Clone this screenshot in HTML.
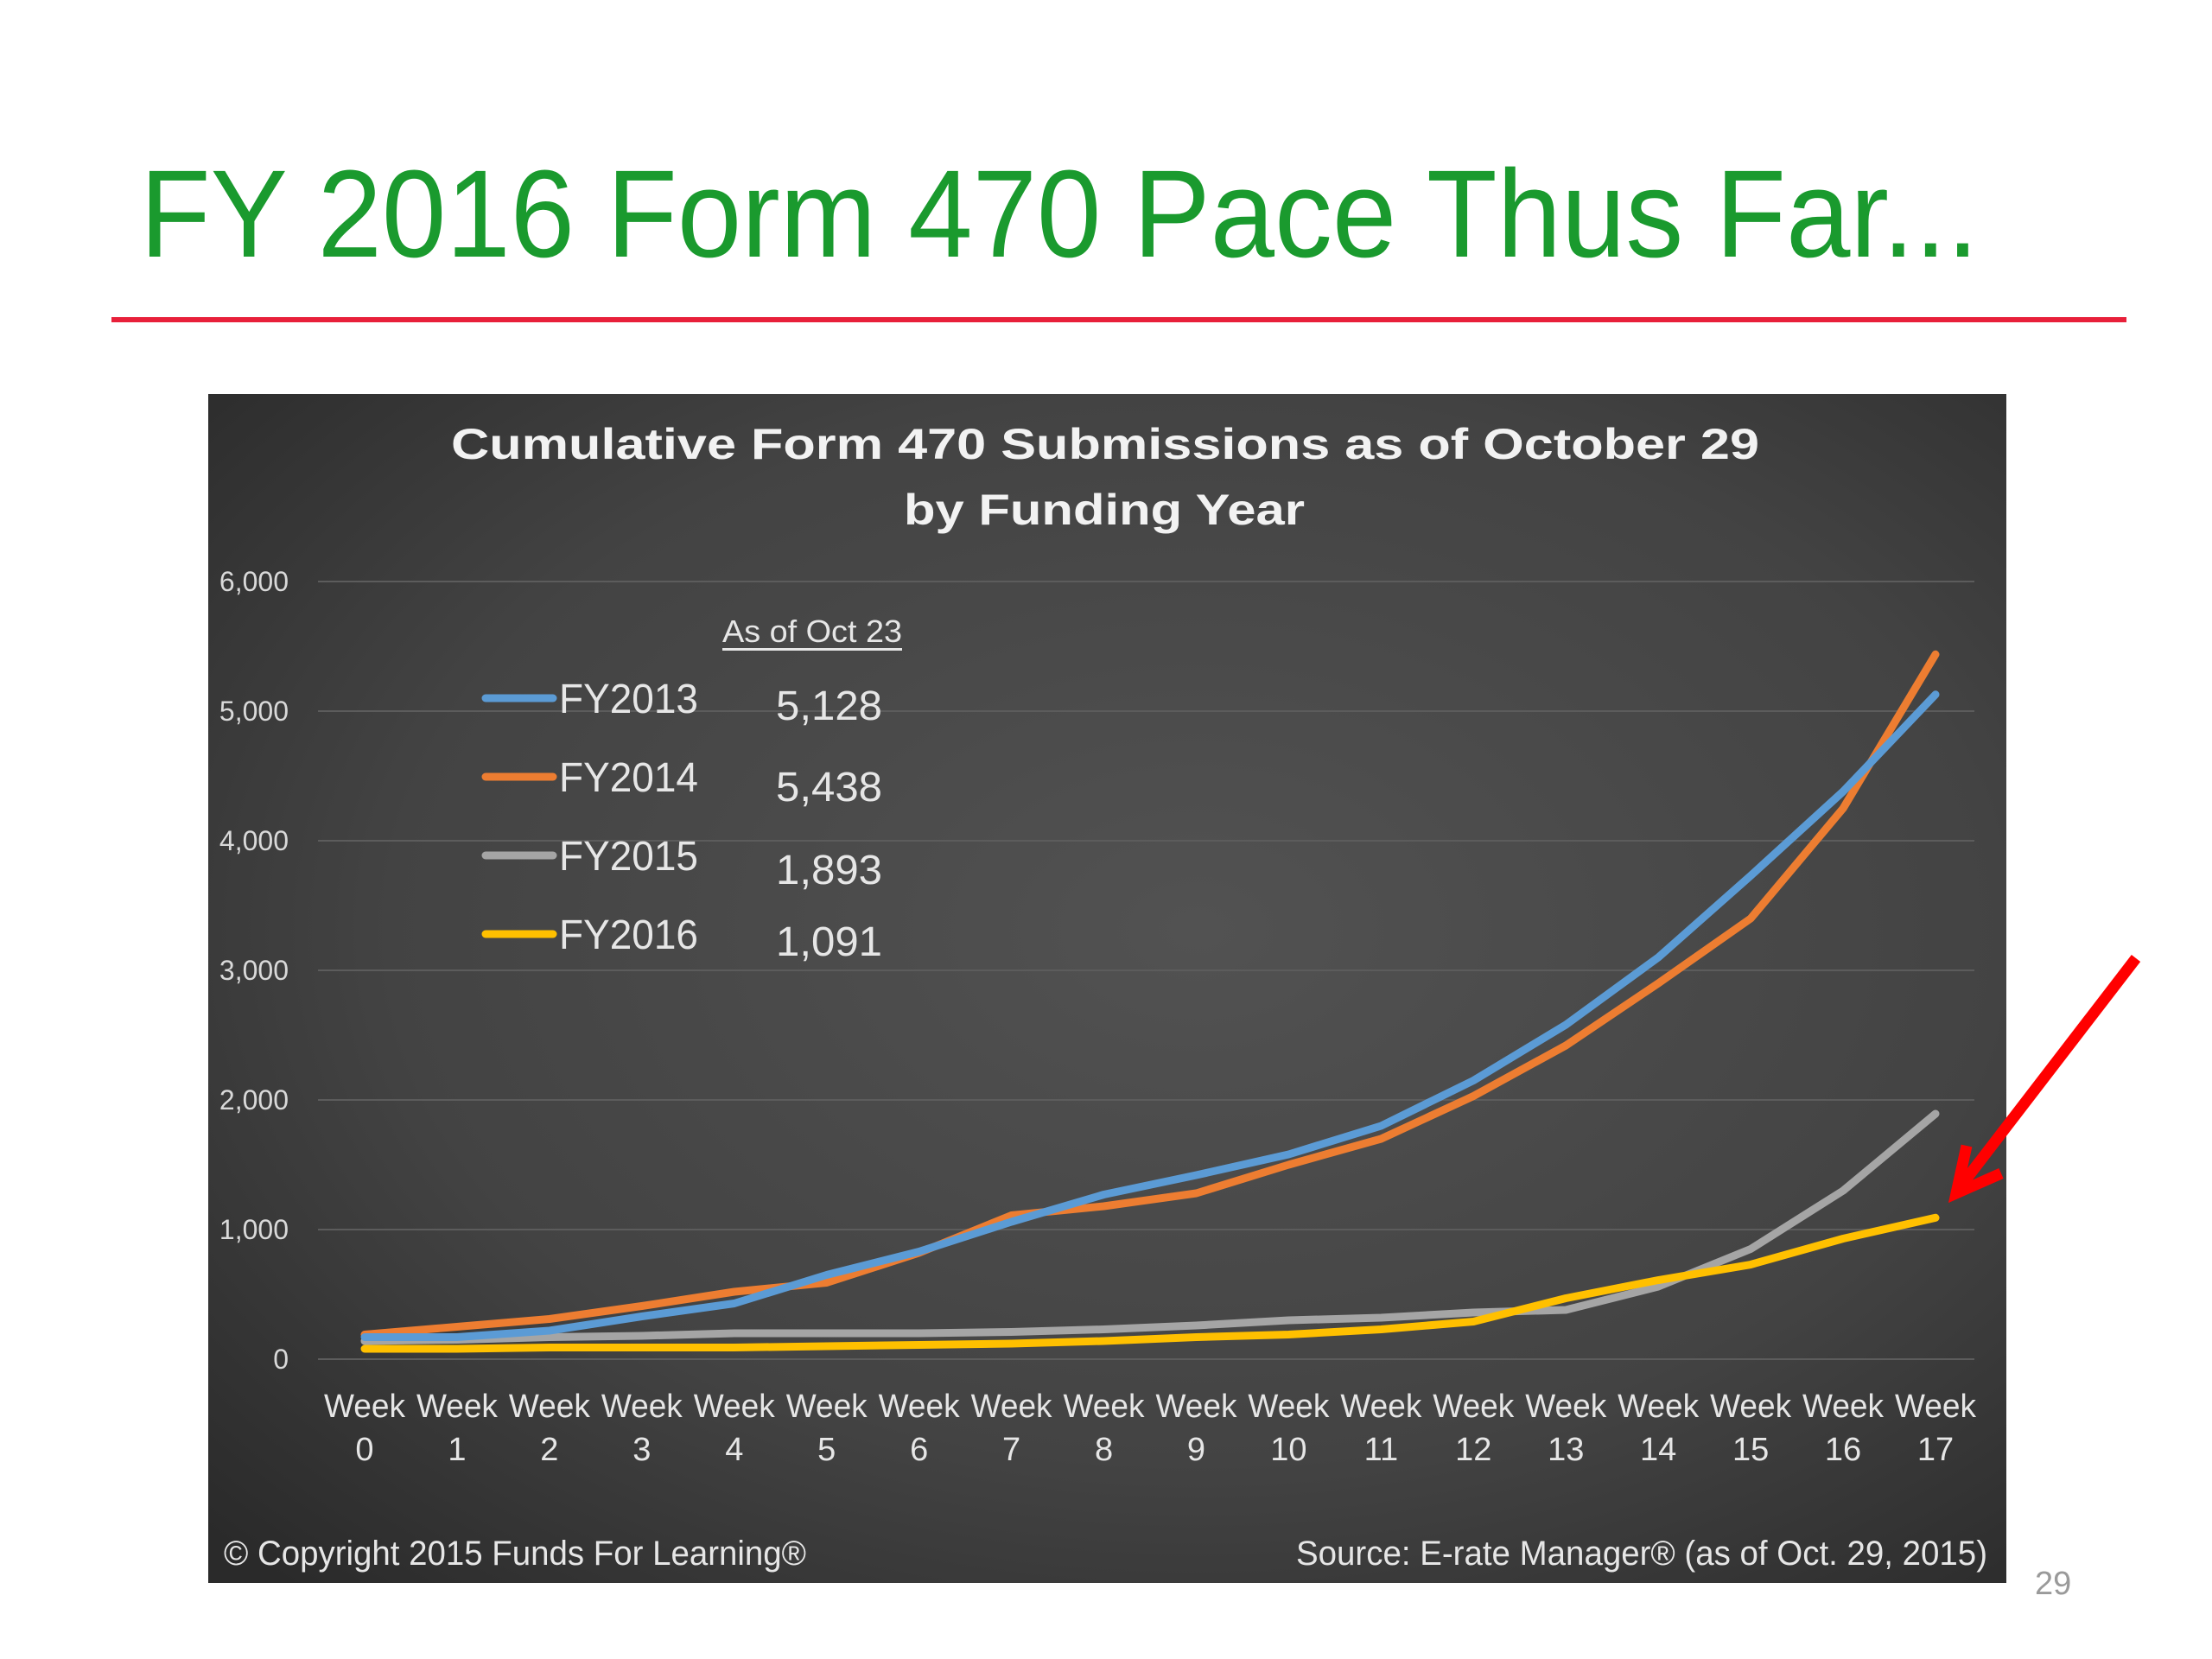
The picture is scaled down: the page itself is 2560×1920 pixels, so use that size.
<!DOCTYPE html>
<html><head><meta charset="utf-8"><style>
html,body{margin:0;padding:0;background:#fff;}
svg{display:block;}
</style></head><body>
<svg id="root" width="2560" height="1920" viewBox="0 0 2560 1920" xmlns="http://www.w3.org/2000/svg" font-family="'Liberation Sans', sans-serif">
<defs>
<radialGradient id="bg" cx="0.55" cy="0.45" r="0.75">
<stop offset="0" stop-color="#525252"/>
<stop offset="0.6" stop-color="#434343"/>
<stop offset="1" stop-color="#2a2a2a"/>
</radialGradient>
</defs>
<text x="162" y="297" font-size="144" fill="#1a9a2e" textLength="2128" lengthAdjust="spacingAndGlyphs">FY 2016 Form 470 Pace Thus Far...</text>
<rect x="129" y="367" width="2332" height="6" fill="#e8203a"/>
<rect x="241" y="456" width="2081" height="1376" fill="url(#bg)"/>
<text x="522" y="531" font-size="50" font-weight="bold" fill="#f2f2f2" textLength="1514" lengthAdjust="spacingAndGlyphs">Cumulative Form 470 Submissions as of October 29</text>
<text x="1046" y="607" font-size="50" font-weight="bold" fill="#f2f2f2" textLength="464" lengthAdjust="spacingAndGlyphs">by Funding Year</text>
<g id="grid"></g>
<g id="xlabels"></g>
<g id="series"></g>
<text x="836" y="743" font-size="36" fill="#e6e6e6" textLength="208" lengthAdjust="spacingAndGlyphs">As of Oct 23</text>
<rect x="836" y="750" width="208" height="3" fill="#e6e6e6"/>
<g id="legend"></g>
<text x="259" y="1811" font-size="40" fill="#e6e6e6" textLength="674" lengthAdjust="spacingAndGlyphs">© Copyright 2015 Funds For Learning®</text>
<text x="1500" y="1811" font-size="40" fill="#e6e6e6" textLength="800" lengthAdjust="spacingAndGlyphs">Source: E-rate Manager® (as of Oct. 29, 2015)</text>
<text x="2355" y="1845" font-size="38" fill="#9a9a9a">29</text>
<g stroke="#ff0000" stroke-width="13" stroke-linecap="butt" fill="none">
<line x1="2472" y1="1109" x2="2266" y2="1377"/>
<polyline points="2276,1326 2264,1381 2316,1358" stroke-linejoin="miter"/>
</g>
</svg>
<script>
const categories = ["0","1","2","3","4","5","6","7","8","9","10","11","12","13","14","15","16","17"];
const yTicks = [0,1000,2000,3000,4000,5000,6000];
const yTickLabels = ["0","1,000","2,000","3,000","4,000","5,000","6,000"];
const seriesNames = ["FY2013","FY2014","FY2015","FY2016"];
const latestValues = ["5,128","5,438","1,893","1,091"];
const fy2013 = [170,170,220,330,430,650,830,1060,1270,1420,1580,1800,2150,2580,3100,3730,4380,5128];
const fy2014 = [190,250,310,410,520,590,820,1110,1180,1280,1500,1700,2030,2420,2900,3400,4250,5438];
const fy2015 = [140,150,170,180,200,200,200,210,230,260,300,320,360,380,560,850,1300,1893];
const fy2016 = [80,80,90,90,90,100,110,120,140,170,190,230,290,470,610,730,930,1091];

const NS = "http://www.w3.org/2000/svg";
const X0 = 422, X1 = 2240, Y0 = 1573, Y1 = 673, YMAX = 6000;
function xPos(i){ return X0 + (X1 - X0) * i / (categories.length - 1); }
function yPos(v){ return Y0 - (Y0 - Y1) * v / YMAX; }
function mk(tag, attrs){ const e = document.createElementNS(NS, tag); for (const k in attrs) e.setAttribute(k, attrs[k]); return e; }

const grid = document.getElementById('grid');
yTicks.forEach((t, i) => {
  const l = mk('line', {x1:368, x2:2285, y1:yPos(t), y2:yPos(t), stroke:'#5c5c5c', 'stroke-width':2});
  
  
  grid.appendChild(l);
  const tx = mk('text', {x:334, y:yPos(t)+11, 'font-size':32, fill:'#d9d9d9', 'text-anchor':'end'});
  tx.textContent = yTickLabels[i];
  
  
  grid.appendChild(tx);
});

const xl = document.getElementById('xlabels');
categories.forEach((c, i) => {
  const t1 = mk('text', {x:xPos(i), y:1640, 'font-size':38, fill:'#e6e6e6', 'text-anchor':'middle', textLength:94, lengthAdjust:'spacingAndGlyphs'});
  t1.textContent = 'Week';
  
  
  xl.appendChild(t1);
  const t2 = mk('text', {x:xPos(i), y:1690, 'font-size':38, fill:'#e6e6e6', 'text-anchor':'middle'});
  t2.textContent = c;
  
  
  xl.appendChild(t2);
});

const colors = ['#5b9bd5','#ed7d31','#a5a5a5','#ffc000'];
const allSeries = [fy2013, fy2014, fy2015, fy2016];
const sg = document.getElementById('series');
[2,3,1,0].forEach(si => {
  const pts = allSeries[si].map((v, i) => xPos(i).toFixed(1) + ',' + yPos(v).toFixed(1)).join(' ');
  const pl = mk('polyline', {points:pts, fill:'none', stroke:colors[si], 'stroke-width':9, 'stroke-linejoin':'round', 'stroke-linecap':'round'});
  
  
  sg.appendChild(pl);
});

const lg = document.getElementById('legend');
const legY = [808, 899, 990, 1081];
const valY = [833, 927, 1023, 1106];
seriesNames.forEach((n, i) => {
  const ln = mk('line', {x1:562, x2:640, y1:legY[i], y2:legY[i], stroke:colors[i], 'stroke-width':9, 'stroke-linecap':'round'});
  
  
  lg.appendChild(ln);
  const t = mk('text', {x:647, y:legY[i]+17, 'font-size':48, fill:'#e6e6e6', textLength:161, lengthAdjust:'spacingAndGlyphs'});
  t.textContent = n;
  
  
  lg.appendChild(t);
  const v = mk('text', {x:898, y:valY[i], 'font-size':48, fill:'#e6e6e6', textLength:123, lengthAdjust:'spacingAndGlyphs'});
  v.textContent = latestValues[i];
  
  
  lg.appendChild(v);
});
</script>
</body></html>
